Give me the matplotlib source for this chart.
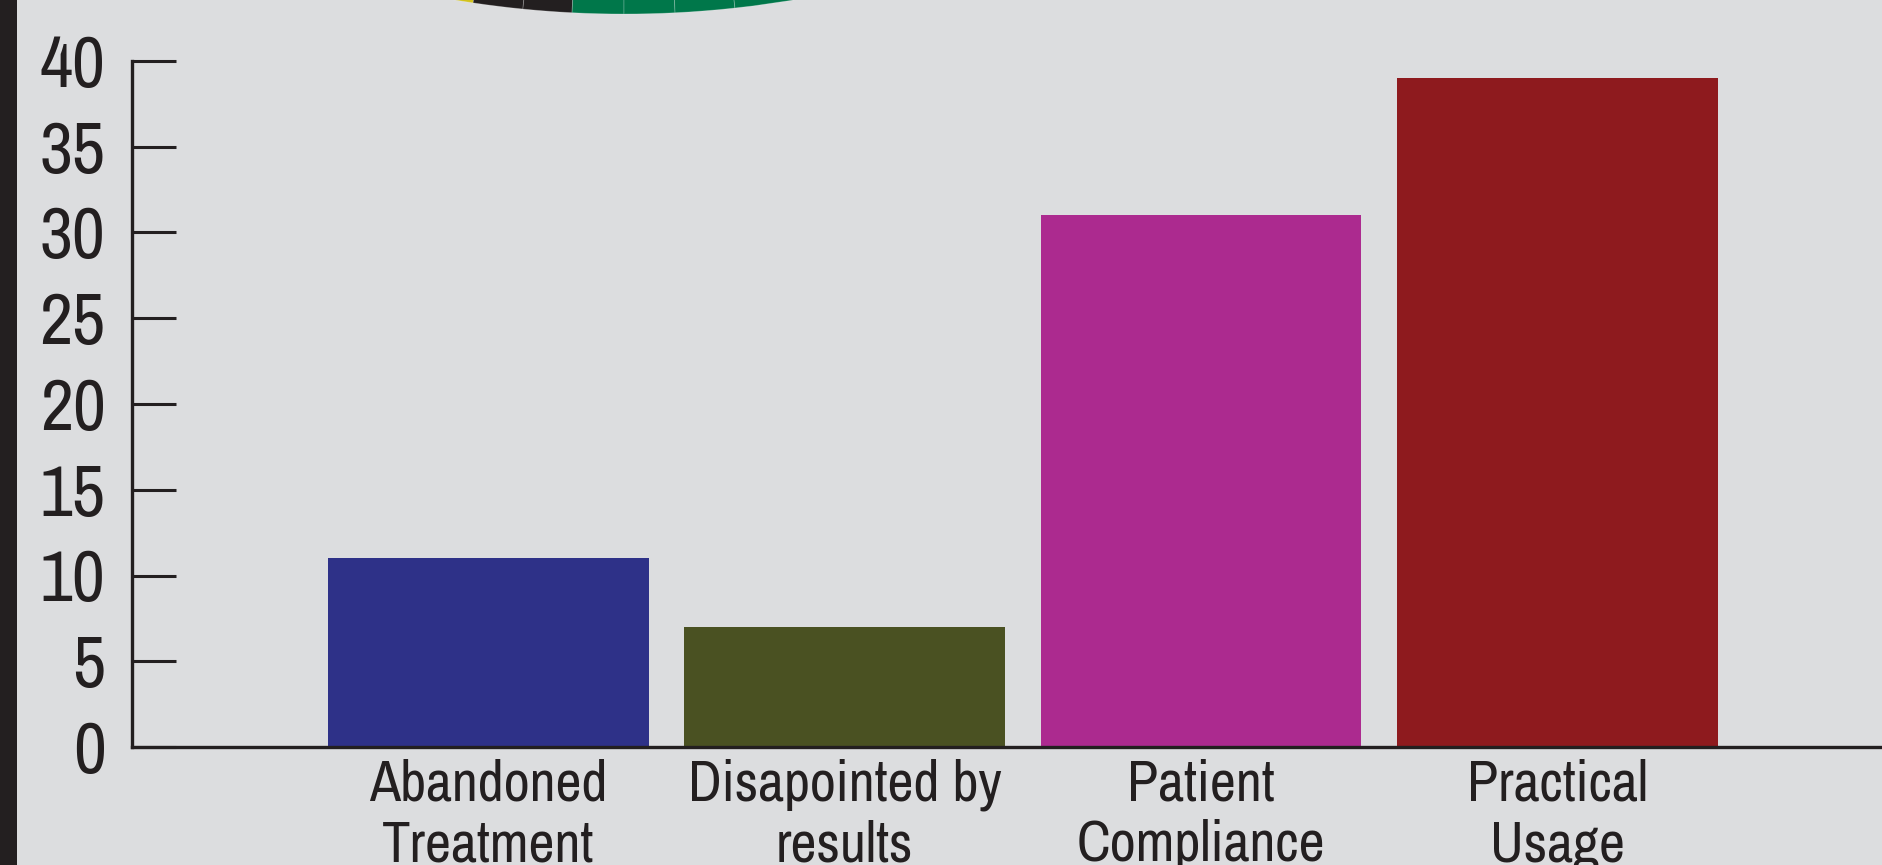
import matplotlib.pyplot as plt
from matplotlib.patches import Rectangle

# bar data
categories = ['Abandoned\nTreatment', 'Disapointed by\nresults', 'Patient\nCompliance', 'Practical\nUsage']
values = [11, 7, 31, 39]
colors = ['#2e3188', '#4a5122', '#ac2a8f', '#8e1a1e']
yticks = [0, 5, 10, 15, 20, 25, 30, 35, 40]

# cut-off pie peeking in at the top (slice sizes in degrees)
pie_sizes = [81.55, 2.8, 2.75, 2.9, 2.85, 3.35, 263.8]
pie_colors = ['#d2c21c', '#231f20', '#231f20', '#00774a', '#00774a', '#00774a', '#00774a']

bg = '#dcdddf'
ink = '#231f20'
plt.rcParams['font.family'] = ['Archivo Narrow', 'DejaVu Sans']

fig = plt.figure(figsize=(18.83, 8.65), dpi=100, facecolor=bg)

# thick black bar on the left edge
fig.patches.append(Rectangle((0, 0), 17 / 1883, 1, transform=fig.transFigure,
                             facecolor=ink, edgecolor='none'))

# pie, mostly outside the canvas
R = 1027
pax = fig.add_axes([(624 - R) / 1883, 851 / 865, 2 * R / 1883, 2 * R / 865])
pax.pie(pie_sizes, colors=pie_colors, startangle=180, counterclock=True,
        wedgeprops=dict(edgecolor=(1, 1, 1, 0.25), linewidth=0.6))
pax.set_xlim(-1, 1)
pax.set_ylim(-1, 1)
pax.axis('off')

ax = fig.add_axes([132 / 1883, 118 / 865, 1 - 132 / 1883, 686 / 865])
ax.set_facecolor('none')
x = list(range(len(values)))
ax.bar(x, values, width=0.9, color=colors, zorder=1)

ax.set_xlim(-1.0, 3.914)
ax.set_ylim(0, 40)
ax.set_yticks(yticks)
ax.set_xticks(x)
ax.set_xticklabels(categories, fontsize=41, color=ink, linespacing=1.22)
ax.tick_params(axis='y', direction='in', length=32, width=2.2, color=ink,
               labelsize=52, labelcolor=ink, pad=19)
ax.tick_params(axis='x', length=0, pad=8)

for s in ['top', 'right']:
    ax.spines[s].set_visible(False)
for s in ['left', 'bottom']:
    ax.spines[s].set_color(ink)
    ax.spines[s].set_linewidth(2.4)
    ax.spines[s].set_zorder(3)

plt.savefig('out.png', dpi=100, facecolor=bg)
